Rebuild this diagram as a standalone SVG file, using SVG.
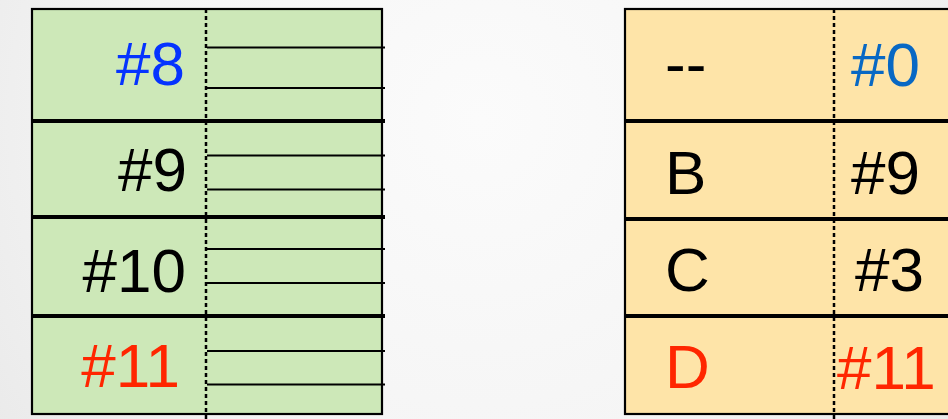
<svg xmlns="http://www.w3.org/2000/svg" width="948" height="419" viewBox="0 0 948 419">
  <defs>
    <radialGradient id="bg" cx="480" cy="120" r="620" gradientUnits="userSpaceOnUse">
      <stop offset="0" stop-color="#fbfbfb"/>
      <stop offset="0.55" stop-color="#f5f5f5"/>
      <stop offset="1" stop-color="#e8e8e8"/>
    </radialGradient>
  </defs>
  <style>
    .frame { stroke: #000; stroke-width: 2.2; }
    .green { fill: #cde8b8; }
    .amber { fill: #fee4a8; }
    .divider { stroke: #000; stroke-width: 4; }
    .dotted { stroke: #000; stroke-width: 2.5; stroke-dasharray: 4 3; fill: none; }
    .ptr { stroke: #000; stroke-width: 2.2; }
    text { font-family: "Liberation Sans", Arial, Helvetica, sans-serif; font-size: 62px; fill: #000; }
    .end { text-anchor: end; }
    .blue { fill: #0533ff; }
    .blue2 { fill: #0868c4; }
    .red { fill: #ff2600; }
  </style>

  <rect x="0" y="0" width="948" height="419" fill="url(#bg)"/>

  <!-- left table: slot column with pointer rows -->
  <g id="left-table">
    <rect class="green frame" x="32" y="9" width="350" height="405"/>
    <g id="left-row-8">
      <text class="end blue" x="185" y="85">#8</text>
    </g>
    <g id="left-row-9">
      <text class="end" x="187" y="191">#9</text>
    </g>
    <g id="left-row-10">
      <text class="end" x="186" y="292">#10</text>
    </g>
    <g id="left-row-11">
      <text class="end red" x="180" y="387">#11</text>
    </g>
    <line class="divider" x1="31" y1="121" x2="385" y2="121"/>
    <line class="divider" x1="31" y1="217" x2="385" y2="217"/>
    <line class="divider" x1="31" y1="316" x2="385" y2="316"/>
    <line class="dotted" x1="206" y1="9" x2="206" y2="419"/>
  </g>

  <!-- pointer stubs leaving each slot -->
  <g id="connectors">
    <line class="ptr" x1="207" y1="47.5" x2="385" y2="47.5"/>
    <line class="ptr" x1="207" y1="88" x2="385" y2="88"/>
    <line class="ptr" x1="207" y1="155.5" x2="385" y2="155.5"/>
    <line class="ptr" x1="207" y1="189.5" x2="385" y2="189.5"/>
    <line class="ptr" x1="207" y1="249" x2="385" y2="249"/>
    <line class="ptr" x1="207" y1="283" x2="385" y2="283"/>
    <line class="ptr" x1="207" y1="351" x2="385" y2="351"/>
    <line class="ptr" x1="207" y1="384.5" x2="385" y2="384.5"/>
  </g>

  <!-- right table: key / slot pairs -->
  <g id="right-table">
    <rect class="amber frame" x="625" y="9" width="340" height="405"/>
    <g id="right-row-0">
      <text x="665" y="85">--</text>
      <text class="blue2" x="851" y="86">#0</text>
    </g>
    <g id="right-row-B">
      <text x="665" y="194">B</text>
      <text x="851" y="194">#9</text>
    </g>
    <g id="right-row-C">
      <text x="665" y="291">C</text>
      <text x="855" y="291">#3</text>
    </g>
    <g id="right-row-D">
      <text class="red" x="665" y="388">D</text>
      <text class="red" x="837" y="389">#11</text>
    </g>
    <line class="divider" x1="624" y1="121" x2="948" y2="121"/>
    <line class="divider" x1="624" y1="219" x2="948" y2="219"/>
    <line class="divider" x1="624" y1="316" x2="948" y2="316"/>
    <line class="dotted" x1="834" y1="9" x2="834" y2="419"/>
  </g>
</svg>
